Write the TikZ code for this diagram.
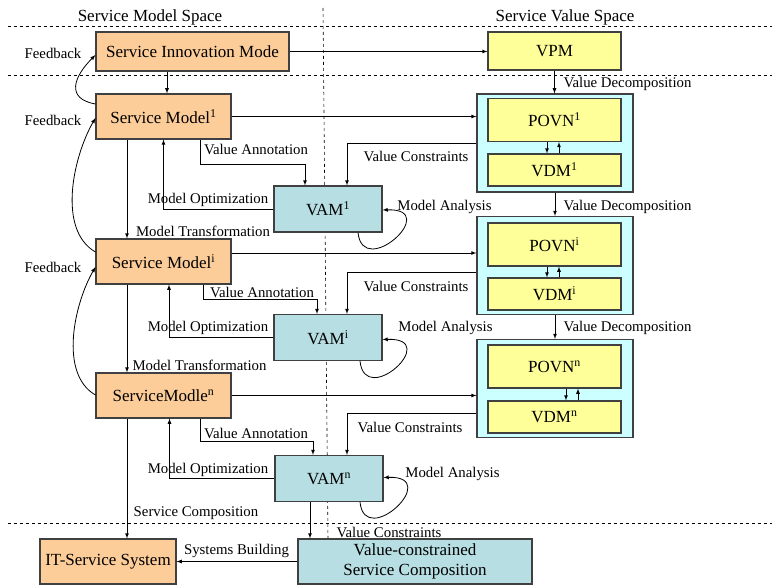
\documentclass[tikz,border=0pt]{standalone}
\usepackage{fontspec}
\setmainfont{Liberation Serif}
\usetikzlibrary{%
  arrows,%
  calc,%
  positioning%
}
\tikzset{>=latex}
\definecolor{modelc}{RGB}{252,204,153}
\definecolor{valuec}{RGB}{255,255,153}
\definecolor{netc}{RGB}{204,255,255}
\definecolor{vamc}{RGB}{183,222,226}
\definecolor{edgec}{RGB}{64,64,64}
\tikzset{
  box/.style={draw=edgec,line width=1.1pt,inner sep=0pt,font=\fontsize{17}{20}\selectfont},
  model/.style={box,fill=modelc,minimum width=135pt,minimum height=45pt},
  valbox/.style={box,fill=valuec,minimum width=133pt,minimum height=32pt},
  net/.style={box,fill=netc,minimum width=156pt,minimum height=98pt},
  vam/.style={box,fill=vamc,minimum width=108pt,minimum height=46pt},
  lbl/.style={inner sep=0pt,font=\fontsize{14.8}{16}\selectfont},
  head/.style={inner sep=0pt,font=\fontsize{17}{20}\selectfont},
  sep/.style={dashed,line width=0.6pt},
  flow/.style={->,line width=0.8pt}
}

\begin{document}
\begin{tikzpicture}[x=1pt,y=-1pt]
  \useasboundingbox (0,0) rectangle (772,586);
  \draw[sep] (8,26) -- (772,26);
  \draw[sep] (8,75) -- (772,75);
  \draw[sep] (8,523) -- (772,523);
  \draw[sep] (323,8) -- (328,539);
  \node[head] (msp) at (150,17) {Service Model Space};
  \node[head] (vsp) at (565,17) {Service Value Space};

  % model space
  \node[model,minimum width=193pt,minimum height=39pt] (sim) at (192.5,51.5) {Service Innovation Mode};
  \node[model] (sm1) at (163.5,116.5) {Service Model\textsuperscript{1}};
  \node[model] (smi) at (163.5,261.5) {Service Model\textsuperscript{i}};
  \node[model] (smn) at (163.5,395.5) {ServiceModle\textsuperscript{n}};
  \node[model,minimum width=136pt] (its) at (108,561.5) {IT-Service System};

  % value space
  \node[valbox,minimum height=38pt] (vpm) at (554.5,51) {VPM};
  \node[net] (vs1) at (555,143) {};
  \node[net] (vsi) at (555,265.5) {};
  \node[net] (vsn) at (555,388.5) {};
  \node[valbox,minimum height=43pt] (povn1) at (554.5,120) {POVN\textsuperscript{1}};
  \node[valbox] (vdm1) at (554.5,170) {VDM\textsuperscript{1}};
  \node[valbox,minimum height=43pt] (povni) at (554.5,244.5) {POVN\textsuperscript{i}};
  \node[valbox] (vdmi) at (554.5,294) {VDM\textsuperscript{i}};
  \node[valbox,minimum height=43pt] (povnn) at (554.5,366.5) {POVN\textsuperscript{n}};
  \node[valbox] (vdmn) at (554.5,417) {VDM\textsuperscript{n}};

  \node[vam] (vam1) at (328,209) {VAM\textsuperscript{1}};
  \node[vam] (vami) at (328,337.5) {VAM\textsuperscript{i}};
  \node[vam] (vamn) at (329,478.5) {VAM\textsuperscript{n}};
  \node[vam,minimum width=234pt,minimum height=45pt,align=center] (vcs) at (415,561.5)
    {Value-constrained\\Service Composition};

  % feedback
  \draw[flow] ([yshift=12.5pt]sm1.west) to[out=170,in=225,looseness=1.6] ([yshift=-3.5pt]sim.west);
  \draw[flow] ([yshift=9.5pt]smi.west) to[out=150,in=240,looseness=0.85] ([yshift=-1.5pt]sm1.west);
  \draw[flow] ([yshift=0.5pt]smn.west) to[out=150,in=240,looseness=0.85] ([yshift=-5.5pt]smi.west);
  \node[lbl] (fb1) at (53,53) {Feedback};
  \node[lbl] (fb2) at (53,120) {Feedback};
  \node[lbl] (fb3) at (53,267) {Feedback};

  \draw[flow] (sim.east) -- (sim.east -| vpm.west);
  \draw[flow] ([xshift=3.5pt]sm1.north |- sim.south) -- ([xshift=3.5pt]sm1.north);
  \draw[flow] (sm1.east) -- (sm1.east -| vs1.west);
  \draw[flow] ([yshift=8.5pt]smi.east) -- ([yshift=8.5pt]smi.east -| vsi.west);
  \draw[flow] (smn.east) -- (smn.east -| vsn.west);

  % transformations
  \draw[flow] ([xshift=-36.5pt]sm1.south) -- ([xshift=-36.5pt]smi.north);
  \draw[flow] ([xshift=-36.5pt]smi.south) -- ([xshift=-36.5pt]smn.north);
  \draw[flow] ([xshift=-36.5pt]smn.south) -- ([xshift=-36.5pt]smn.south |- its.north);
  \node[lbl] (mt1) at (203,231) {Model Transformation};
  \node[lbl] (mti) at (199.5,365) {Model Transformation};
  \node[lbl] (sc) at (196,513) {Service Composition};

  % annotation
  \draw[flow] ([xshift=36.5pt]sm1.south) -- ++(0,25) -| ([xshift=-23pt]vam1.north);
  \draw[flow] ([xshift=40pt]smi.south) -- ++(0,15) -| ([xshift=-11pt]vami.north);
  \draw[flow] ([xshift=36.5pt]smn.south) -- ++(0,23) -| ([xshift=-16pt]vamn.north);
  \node[lbl] (va1) at (256,149) {Value Annotation};
  \node[lbl] (vai) at (262,292) {Value Annotation};
  \node[lbl] (van) at (256,433) {Value Annotation};

  % optimization
  \draw[flow] (vam1.west) -| (sm1.south);
  \draw[flow] (vami.west) -| ([xshift=5.5pt]smi.south);
  \draw[flow] (vamn.west) -| ([xshift=6pt]smn.south);
  \node[lbl] (mo1) at (208,200) {Model Optimization};
  \node[lbl] (moi) at (208,328) {Model Optimization};
  \node[lbl] (mon) at (208,470) {Model Optimization};

  % constraints
  \draw[flow] (vs1.west) -| ([xshift=19pt]vam1.north);
  \draw[flow] ([yshift=-6.5pt]vsi.west) -| ([xshift=19pt]vami.north);
  \draw[flow] ([yshift=-24.5pt]vsn.west) -| ([xshift=18pt]vamn.north);
  \node[lbl] (vc1) at (416,156) {Value Constraints};
  \node[lbl] (vci) at (416,286) {Value Constraints};
  \node[lbl] (vcn) at (410,427) {Value Constraints};

  % analysis
  \draw[flow] ([xshift=30pt]vam1.south) .. controls +(5,48) and +(60,-2) .. ([yshift=-1pt]vam1.east);
  \draw[flow] ([xshift=32pt]vami.south) .. controls +(5,48) and +(60,-2) .. ([yshift=-2pt]vami.east);
  \draw[flow] ([xshift=31pt]vamn.south) .. controls +(5,48) and +(60,-2) .. ([yshift=1pt]vamn.east);
  \node[lbl] (ma1) at (444.5,207) {Model Analysis};
  \node[lbl] (mai) at (445.5,328) {Model Analysis};
  \node[lbl] (man) at (452.5,474) {Model Analysis};

  % decomposition
  \draw[flow] (vpm.south) -- (vpm.south |- vs1.north);
  \draw[flow] (vs1.south) -- (vsi.north);
  \draw[flow] (vsi.south) -- (vsn.north);
  \node[lbl] (vd1) at (627.5,84) {Value Decomposition};
  \node[lbl] (vdi) at (627.5,207) {Value Decomposition};
  \node[lbl] (vdn) at (627.5,328) {Value Decomposition};

  \draw[flow] ([xshift=-7.5pt]povn1.south) -- ([xshift=-7.5pt]vdm1.north);
  \draw[flow] ([xshift=4.5pt]vdm1.north) -- ([xshift=4.5pt]povn1.south);
  \draw[flow] ([xshift=-7.5pt]povni.south) -- ([xshift=-7.5pt]vdmi.north);
  \draw[flow] ([xshift=4.5pt]vdmi.north) -- ([xshift=4.5pt]povni.south);
  \draw[flow] ([xshift=11.5pt]povnn.south) -- ([xshift=11.5pt]vdmn.north);
  \draw[flow] ([xshift=23.5pt]vdmn.north) -- ([xshift=23.5pt]povnn.south);

  % composition
  \draw[flow] ([xshift=-19pt]vamn.south) -- ([xshift=-19pt]vamn.south |- vcs.north);
  \node[lbl] (vcb) at (389,532) {Value Constraints};
  \draw[flow] (vcs.west) -- (vcs.west -| its.east);
  \node[lbl] (sb) at (236.5,551) {Systems Building};
\end{tikzpicture}
\end{document}
